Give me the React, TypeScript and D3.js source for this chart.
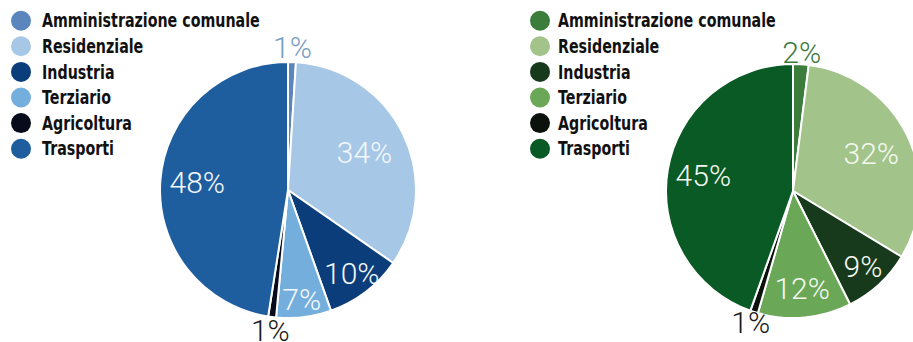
import React from "react";
import * as d3 from "d3";

const categories = ["Amministrazione comunale", "Residenziale", "Industria", "Terziario", "Agricoltura", "Trasporti"];
const valuesA = [1, 34, 10, 7, 1, 48];
const valuesB = [2, 32, 9, 12, 1, 45];
const labelsA = ["1%", "34%", "10%", "7%", "1%", "48%"];
const labelsB = ["2%", "32%", "9%", "12%", "1%", "45%"];

const colorsA = ["#5a85bd", "#a6c7e5", "#0a3d79", "#74aedd", "#070b1c", "#1e5e9f"];
const colorsB = ["#3c7d3c", "#a2c48b", "#173a1c", "#6aa757", "#0b120c", "#0a5a25"];
const labelColorsA = ["#7b9dc4", "#f4f7fb", "#f4f7fb", "#f4f7fb", "#1a1a1a", "#f4f7fb"];
const labelColorsB = ["#3c7a3c", "#f4f8f0", "#f4f8f0", "#f4f8f0", "#1a1a1a", "#f4f8f0"];
const labelRadiiA = [143, 85, 105, 110, 142, 91];
const labelRadiiB = [139, 87, 103, 98, 138, 91];

const W = 913;
const H = 342;

type PieProps = {
  cx: number; cy: number; r: number;
  values: number[]; colors: string[]; labels: string[]; labelColors: string[]; labelRadii: number[];
};

function Pie({ cx, cy, r, values, colors, labels, labelColors, labelRadii }: PieProps) {
  const pie = d3.pie<number>().sort(null).value((d) => d);
  const arcs = pie(values);
  const arc = d3.arc<d3.PieArcDatum<number>>().innerRadius(0).outerRadius(r);
  return (
    <g transform={`translate(${cx},${cy})`}>
      {arcs.map((a, i) => (
        <path key={i} d={arc(a) || ""} fill={colors[i]} stroke="#ffffff" strokeWidth={2} strokeLinejoin="round" />
      ))}
      {arcs.map((a, i) => {
        const mid = (a.startAngle + a.endAngle) / 2;
        const lr = labelRadii[i];
        const x = Math.sin(mid) * lr;
        const y = -Math.cos(mid) * lr;
        return (
          <text key={"t" + i} x={x} y={y} textAnchor="middle" dominantBaseline="central"
            fontFamily="Roboto, 'Open Sans', 'Liberation Sans', sans-serif" fontWeight={300}
            fontSize={30} fill={labelColors[i]}>
            {labels[i]}
          </text>
        );
      })}
    </g>
  );
}

function Legend({ x, y, colors, textX }: { x: number; y: number; colors: string[]; textX: number }) {
  const sx = 0.75;
  return (
    <g>
      {categories.map((c, i) => (
        <g key={c}>
          <circle cx={x} cy={y + i * 25.6} r={10} fill={colors[i]} />
          <g transform={`translate(${textX},${y + i * 25.6}) scale(${sx},1)`}>
            <text x={0} y={0} dominantBaseline="central"
              fontFamily="'DejaVu Sans', 'Liberation Sans', sans-serif"
              fontWeight="bold" fontSize={19} fill="#111111">
              {c}
            </text>
          </g>
        </g>
      ))}
    </g>
  );
}

export default function App() {
  return (
    <svg width={W} height={H} style={{ position: "fixed", top: 0, left: 0, background: "#ffffff" }}>
      <rect x={0} y={0} width={W} height={H} fill="#ffffff" />
      <Legend x={21} y={20.7} colors={colorsA} textX={42} />
      <Legend x={540} y={20.7} colors={colorsB} textX={558} />
      <Pie cx={288} cy={190} r={128} values={valuesA} colors={colorsA} labels={labelsA}
        labelColors={labelColorsA} labelRadii={labelRadiiA} />
      <Pie cx={793} cy={191} r={127} values={valuesB} colors={colorsB} labels={labelsB}
        labelColors={labelColorsB} labelRadii={labelRadiiB} />
    </svg>
  );
}
